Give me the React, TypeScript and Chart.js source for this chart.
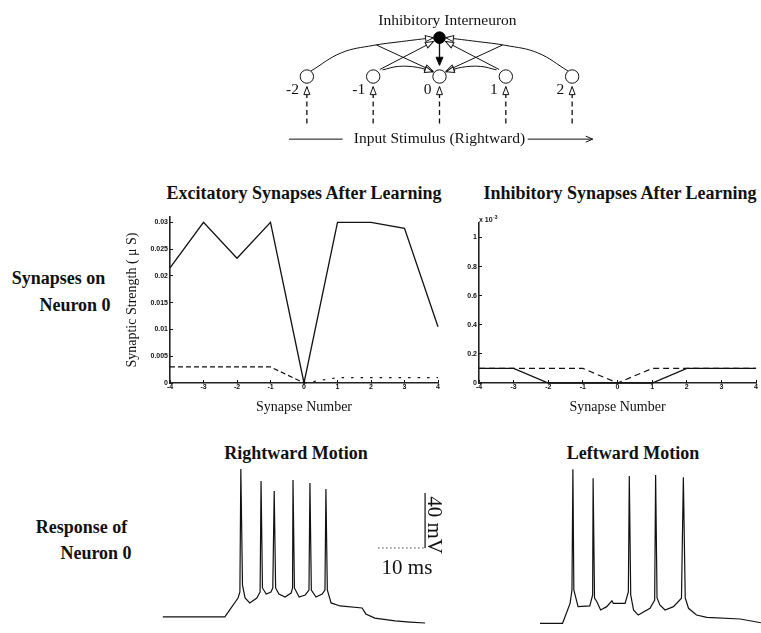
import React, { useEffect, useRef } from "react";
import { Chart, registerables } from "chart.js";

Chart.register(...registerables);

// ---------------- data ----------------
const synapseNumbers = [-4, -3, -2, -1, 0, 1, 2, 3, 4];
const excitatorySolid = [0.0215, 0.03, 0.0233, 0.03, 0, 0.03, 0.03, 0.0289, 0.0105];
const excitatoryDashed = [0.003, 0.003, 0.003, 0.003, 0, 0.001, 0.001, 0.001, 0.001];
const inhibitorySolid = [0.1, 0.1, 0, 0, 0, 0, 0.1, 0.1, 0.1];
const inhibitoryDashed = [0.1, 0.1, 0.1, 0.1, 0, 0.1, 0.1, 0.1, 0.1];
const excitatoryYTicks = [0, 0.005, 0.01, 0.015, 0.02, 0.025, 0.03];
const inhibitoryYTicks = [0, 0.2, 0.4, 0.6, 0.8, 1];
const excitatoryYMax = 0.031;
const inhibitoryYMax = 1.1;

const rightwardTimeMs = [0.6, 13.8, 16.6, 17.0, 17.2, 17.55, 18.1, 19.1, 20.6, 21.3, 21.5, 21.8, 22.6, 23.6, 24.0, 24.3, 24.6, 25.3, 26.6, 27.9, 28.2, 28.3, 28.6, 29.6, 30.9, 31.7, 31.9, 32.2, 33.2, 34.5, 35.1, 35.3, 35.6, 36.4, 38.3, 43.0, 43.8, 45.7, 50.0, 53.2, 56.4];
const rightwardVoltageMv = [-68.7, -68.7, -54.9, -50.5, 38.9, -45.5, -54.9, -58.5, -54.9, -50.5, 30.2, -47.6, -52.0, -50.5, -47.6, 22.9, -47.6, -52.0, -54.2, -51.3, -47.6, 30.9, -47.6, -54.2, -52.7, -49.1, 28.7, -49.1, -54.2, -52.0, -49.1, 24.4, -49.1, -58.5, -60.7, -62.2, -66.5, -69.5, -71.6, -72.4, -73.1];
const leftwardTimeMs = [0, 4.8, 6.4, 6.8, 7.0, 7.2, 8.1, 10.6, 11.2, 11.3, 11.6, 12.1, 12.9, 14.2, 15.3, 15.6, 18.1, 18.8, 19.0, 19.3, 19.9, 20.9, 23.4, 24.4, 24.6, 24.9, 25.5, 26.6, 28.4, 30.1, 30.5, 30.9, 31.6, 33.3, 35.5, 42.6, 47.0];
const leftwardVoltageMv = [-73.3, -73.3, -58.8, -49.1, 38.7, -49.1, -61.2, -60.7, -52.7, 32.1, -54.9, -57.6, -63.6, -61.2, -56.9, -58.8, -58.8, -50.5, 33.8, -52.7, -63.6, -67.3, -62.4, -56.4, 34.5, -54.9, -60.0, -63.6, -61.2, -55.1, 32.9, -54.9, -62.4, -67.3, -69.0, -70.2, -72.9];
const scaleBarTimeMs = [46.4, 56.4];
const scaleBarVoltageMv = [-18.5, 21.5];

// circuit diagram (neuron index units)
const neuronIds = [-2, -1, 0, 1, 2];
const interneuronPos = [0, 1];
const inputArrowY = [-1.21, -0.26];
const farToInterneuron = [[-1.94, 0.14], [-1.48, 0.61], [-1.0, 0.8], [-0.57, 0.9], [-0.09, 1.0]];
const farToCenter = [[-0.95, 0.81], [-0.1, 0.14]];
const nearToInterneuron = [[-0.9, 0.18], [-0.09, 0.9]];
const nearToCenter = [[-0.86, 0.17], [-0.62, 0.26], [-0.33, 0.235], [-0.1, 0.12]];
const interneuronToCenter = [[0, 0.86], [0, 0.29]];
const stimulusY = -1.61;
const stimulusLeftLine = [-2.27, -1.46];
const stimulusRightArrow = [1.33, 2.31];
const interneuronLabelPos = [0.12, 1.42];
const neuronLabelY = -0.35;

// ---------------- styles ----------------
const INK = "#111";
const SERIF = '"Liberation Serif", "Times New Roman", serif';
const SANS = '"Liberation Sans", Arial, sans-serif';
const MS_PX = 4.7;
const MV_PX = 1.375;
const TRACE_VMAX = 60;

const toXY = (xs: number[], ys: number[]) => xs.map((x, i) => ({ x, y: ys[i] }));
const pairs = (pts: number[][], mirror = false) => pts.map(([x, y]) => ({ x: mirror ? -x : x, y }));

const arrowPlugin = {
  id: "arrowHeads",
  afterDatasetsDraw(chart: any) {
    const ctx = chart.ctx;
    chart.data.datasets.forEach((ds: any, i: number) => {
      if (!ds.arrowHead) return;
      const pts = chart.getDatasetMeta(i).data;
      const a = pts[pts.length - 2];
      const b = pts[pts.length - 1];
      let dx = b.x - (b.cp1x ?? a.x);
      let dy = b.y - (b.cp1y ?? a.y);
      if (Math.hypot(dx, dy) < 0.5) { dx = b.x - a.x; dy = b.y - a.y; }
      const ang = Math.atan2(dy, dx);
      const L = ds.arrowHead === "line" ? 7 : 8;
      const W = ds.arrowHead === "filled" ? 3.5 : 3;
      ctx.save();
      ctx.translate(b.x, b.y);
      ctx.rotate(ang);
      ctx.setLineDash([]);
      ctx.lineWidth = 1;
      ctx.strokeStyle = INK;
      ctx.beginPath();
      if (ds.arrowHead === "line") {
        ctx.moveTo(-L, -W);
        ctx.lineTo(0, 0);
        ctx.lineTo(-L, W);
        ctx.stroke();
      } else {
        ctx.moveTo(0, 0);
        ctx.lineTo(-L, -W);
        ctx.lineTo(-L, W);
        ctx.closePath();
        ctx.fillStyle = ds.arrowHead === "filled" ? "#000" : "#fff";
        ctx.fill();
        ctx.stroke();
      }
      ctx.restore();
    });
  },
};

const diagramTextPlugin = {
  id: "diagramText",
  afterDraw(chart: any) {
    const { ctx, scales } = chart;
    const x = scales.x;
    const y = scales.y;
    ctx.save();
    ctx.fillStyle = INK;
    ctx.font = `15.5px ${SERIF}`;
    ctx.textAlign = "center";
    ctx.textBaseline = "middle";
    ctx.fillText("Inhibitory Interneuron", x.getPixelForValue(interneuronLabelPos[0]), y.getPixelForValue(interneuronLabelPos[1]));
    ctx.fillText("Input Stimulus (Rightward)", x.getPixelForValue(0), y.getPixelForValue(stimulusY));
    ctx.textAlign = "right";
    neuronIds.forEach((id) => ctx.fillText(String(id), x.getPixelForValue(id - 0.12), y.getPixelForValue(neuronLabelY)));
    ctx.restore();
  },
};

const exponentPlugin = {
  id: "exponentLabel",
  afterDraw(chart: any) {
    const opt = chart.options.plugins.exponentLabel;
    if (!opt || !opt.text) return;
    const { ctx, chartArea } = chart;
    ctx.save();
    ctx.fillStyle = INK;
    ctx.textBaseline = "alphabetic";
    ctx.textAlign = "left";
    ctx.font = `bold 7px ${SANS}`;
    const base = "x 10";
    ctx.fillText(base, chartArea.left, chartArea.top - 1);
    const w = ctx.measureText(base).width;
    ctx.font = `bold 5px ${SANS}`;
    ctx.fillText(opt.text, chartArea.left + w + 0.5, chartArea.top - 4);
    ctx.restore();
  },
};

const baseOptions = {
  animation: false,
  responsive: false,
  maintainAspectRatio: false,
  events: [],
  plugins: { legend: { display: false }, tooltip: { enabled: false }, title: { display: false } },
};

function synapseChart(opts: {
  solid: number[];
  dashed: number[];
  yTicks: number[];
  yMax: number;
  padTop: number;
  padRight: number;
  yWidth: number;
  yTitle?: string;
  exponent?: string;
  rightDash: number[];
  leftDash: number[];
}) {
  const tickFont = { family: SANS, size: 7, weight: "bold" };
  return {
    type: "line",
    data: {
      datasets: [
        { data: toXY(synapseNumbers, opts.solid), borderColor: INK, borderWidth: 1.3, pointRadius: 0, tension: 0, clip: false },
        {
          data: toXY(synapseNumbers, opts.dashed),
          borderColor: INK,
          borderWidth: 1.2,
          pointRadius: 0,
          tension: 0,
          clip: false,
          borderDash: opts.leftDash,
          segment: { borderDash: (c: any) => (c.p0.parsed.x >= 0 ? opts.rightDash : opts.leftDash) },
        },
      ],
    },
    options: {
      ...baseOptions,
      plugins: { ...baseOptions.plugins, exponentLabel: { text: opts.exponent } },
      layout: { padding: { top: opts.padTop, right: opts.padRight, left: 0, bottom: 0 } },
      scales: {
        x: {
          type: "linear",
          min: -4,
          max: 4,
          afterBuildTicks: (s: any) => { s.ticks = synapseNumbers.map((value) => ({ value })); },
          afterFit: (s: any) => { s.height = 37; },
          grid: { drawOnChartArea: false, drawTicks: true, tickLength: -3, color: INK, lineWidth: 1 },
          border: { display: true, color: "#222", width: 1.6 },
          ticks: { padding: 3, font: tickFont, color: INK, maxRotation: 0, callback: (v: any) => String(v) },
          title: { display: true, text: "Synapse Number", font: { family: SERIF, size: 14 }, color: INK, padding: { top: 0, bottom: 4 } },
        },
        y: {
          type: "linear",
          min: 0,
          max: opts.yMax,
          afterBuildTicks: (s: any) => { s.ticks = opts.yTicks.map((value) => ({ value })); },
          afterFit: (s: any) => { s.width = opts.yWidth; },
          grid: { drawOnChartArea: false, drawTicks: true, tickLength: -3, color: INK, lineWidth: 1 },
          border: { display: true, color: "#222", width: 1.6 },
          ticks: { padding: 5, font: tickFont, color: INK, callback: (v: any) => String(v) },
          title: opts.yTitle
            ? { display: true, text: opts.yTitle, font: { family: SERIF, size: 14 }, color: INK, padding: { top: 34, bottom: 0 } }
            : { display: false },
        },
      },
    },
    plugins: [exponentPlugin],
  };
}

function traceChart(time: number[], volts: number[], width: number, height: number, withScaleBar: boolean) {
  const datasets: any[] = [
    { data: toXY(time, volts), borderColor: INK, borderWidth: 1.2, pointRadius: 0, tension: 0, clip: false },
  ];
  if (withScaleBar) {
    datasets.push({
      data: [
        { x: scaleBarTimeMs[1], y: scaleBarVoltageMv[1] },
        { x: scaleBarTimeMs[1], y: scaleBarVoltageMv[0] },
      ],
      borderColor: INK, borderWidth: 1.2, pointRadius: 0, clip: false,
    });
    datasets.push({
      data: [
        { x: scaleBarTimeMs[0], y: scaleBarVoltageMv[0] },
        { x: scaleBarTimeMs[1], y: scaleBarVoltageMv[0] },
      ],
      borderColor: "#444", borderWidth: 1, borderDash: [1.5, 2.5], pointRadius: 0, clip: false,
    });
  }
  return {
    type: "line",
    data: { datasets },
    options: {
      ...baseOptions,
      layout: { padding: 0 },
      scales: {
        x: { type: "linear", display: false, min: 0, max: width / MS_PX },
        y: { type: "linear", display: false, min: TRACE_VMAX - height / MV_PX, max: TRACE_VMAX },
      },
    },
  };
}

function diagramChart() {
  const line = (pts: any[], extra: any = {}) => ({
    data: pts, borderColor: INK, borderWidth: 1, pointRadius: 0, clip: false, ...extra,
  });
  const sides = [false, true];
  const datasets: any[] = [
    {
      data: neuronIds.map((x) => ({ x, y: 0 })),
      showLine: false, pointRadius: 6.7, pointBackgroundColor: "#fff", pointBorderColor: INK, pointBorderWidth: 1,
    },
    {
      data: [{ x: interneuronPos[0], y: interneuronPos[1] }],
      showLine: false, pointRadius: 5.8, pointBackgroundColor: "#000", pointBorderColor: "#000", pointBorderWidth: 1,
    },
  ];
  sides.forEach((m) => {
    datasets.push(line(pairs(farToInterneuron, m), { tension: 0.4, arrowHead: "open" }));
    datasets.push(line(pairs(farToCenter, m), { arrowHead: "open" }));
    datasets.push(line(pairs(nearToInterneuron, m), { arrowHead: "open" }));
    datasets.push(line(pairs(nearToCenter, m), { tension: 0.4, arrowHead: "open" }));
  });
  datasets.push(line(pairs(interneuronToCenter), { borderWidth: 1.3, arrowHead: "filled" }));
  neuronIds.forEach((id) => {
    datasets.push(line([{ x: id, y: inputArrowY[0] }, { x: id, y: inputArrowY[1] }], { borderDash: [5, 3.5], borderWidth: 1.3, arrowHead: "open" }));
  });
  datasets.push(line([{ x: stimulusLeftLine[0], y: stimulusY }, { x: stimulusLeftLine[1], y: stimulusY }]));
  datasets.push(line([{ x: stimulusRightArrow[0], y: stimulusY }, { x: stimulusRightArrow[1], y: stimulusY }], { arrowHead: "line" }));
  return {
    type: "line",
    data: { datasets },
    options: {
      ...baseOptions,
      layout: { padding: 0 },
      scales: {
        x: { type: "linear", display: false, min: -2.5, max: 2.5 },
        y: { type: "linear", display: false, min: -2, max: 1.77 },
      },
    },
    plugins: [arrowPlugin, diagramTextPlugin],
  };
}

function ChartBox(props: { left: number; top: number; width: number; height: number; make: () => any }) {
  const ref = useRef<HTMLCanvasElement>(null);
  useEffect(() => {
    const chart = new Chart(ref.current as HTMLCanvasElement, props.make());
    return () => chart.destroy();
  }, []);
  return (
    <canvas
      ref={ref}
      width={props.width}
      height={props.height}
      style={{ position: "absolute", left: props.left, top: props.top, width: props.width, height: props.height }}
    />
  );
}

function Label(props: { x: number; y: number; text: string; size?: number; bold?: boolean; rotate?: number }) {
  const { x, y, text, size = 18, bold = true, rotate = 0 } = props;
  return (
    <div
      style={{
        position: "absolute",
        left: x,
        top: y,
        transform: `translate(-50%, -50%) rotate(${rotate}deg)`,
        font: `${bold ? "bold " : ""}${size}px ${SERIF}`,
        lineHeight: 1,
        whiteSpace: "nowrap",
        color: INK,
      }}
    >
      {text}
    </div>
  );
}

export default function App() {
  return (
    <div style={{ position: "fixed", left: 0, top: 0, width: 761, height: 633, background: "#fff", overflow: "hidden" }}>
      <ChartBox left={266} top={0} width={347} height={162} make={diagramChart} />

      <Label x={304} y={193} text="Excitatory Synapses After Learning" />
      <Label x={620} y={193} text="Inhibitory Synapses After Learning" />
      <Label x={58.5} y={278} text="Synapses on" />
      <Label x={75} y={305} text="Neuron 0" />

      <ChartBox
        left={90}
        top={180}
        width={360}
        height={240}
        make={() =>
          synapseChart({
            solid: excitatorySolid,
            dashed: excitatoryDashed,
            yTicks: excitatoryYTicks,
            yMax: excitatoryYMax,
            padTop: 37,
            padRight: 12,
            yWidth: 80,
            yTitle: "Synaptic Strength ( \u03bc S)",
            leftDash: [5, 3],
            rightDash: [2.5, 7],
          })
        }
      />
      <ChartBox
        left={440}
        top={180}
        width={321}
        height={240}
        make={() =>
          synapseChart({
            solid: inhibitorySolid,
            dashed: inhibitoryDashed,
            yTicks: inhibitoryYTicks,
            yMax: inhibitoryYMax,
            padTop: 43,
            padRight: 3,
            yWidth: 39,
            exponent: "-3",
            leftDash: [6, 4],
            rightDash: [6, 4],
          })
        }
      />

      <Label x={296} y={453} text="Rightward Motion" />
      <Label x={633} y={453} text="Leftward Motion" />
      <Label x={81.5} y={527} text="Response of" />
      <Label x={96} y={553} text="Neuron 0" />

      <ChartBox left={160} top={440} width={290} height={190} make={() => traceChart(rightwardTimeMs, rightwardVoltageMv, 290, 190, true)} />
      <ChartBox left={540} top={440} width={221} height={190} make={() => traceChart(leftwardTimeMs, leftwardVoltageMv, 221, 190, false)} />

      <Label x={434} y={525} text="40 mV" size={21} bold={false} rotate={90} />
      <Label x={407} y={567} text="10 ms" size={21} bold={false} />
    </div>
  );
}
